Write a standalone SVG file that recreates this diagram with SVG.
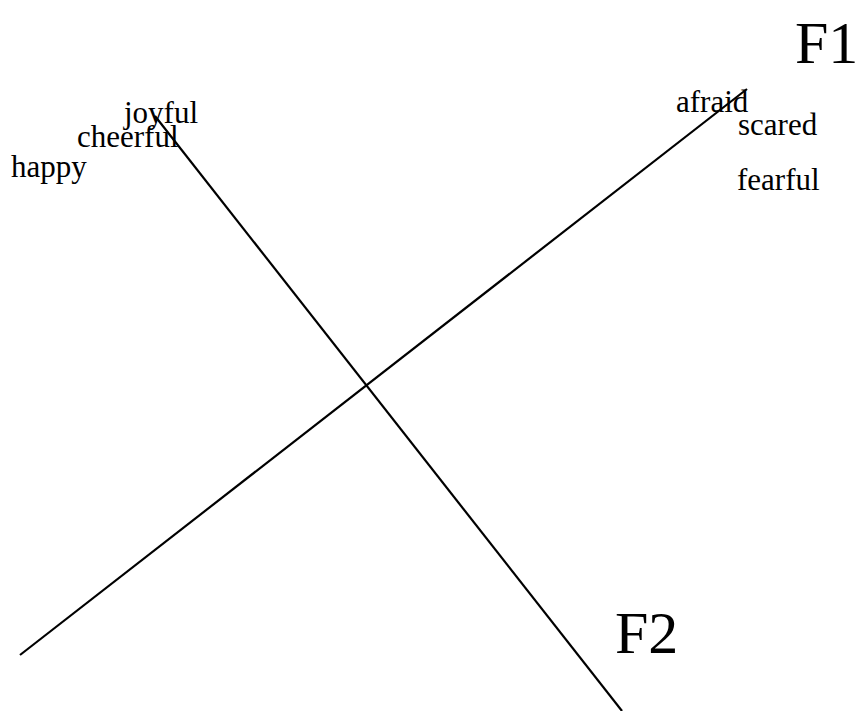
<svg xmlns="http://www.w3.org/2000/svg" width="857" height="711" viewBox="0 0 857 711">
<style>
.w{font-family:"Liberation Serif","Times New Roman",serif;font-size:31px;fill:#000}
.f{font-family:"Liberation Serif","Times New Roman",serif;font-size:60px;fill:#000}
.ax{stroke:#000;stroke-width:2.2;fill:none}
</style>
<rect width="857" height="711" fill="#fff"/>
<g id="connectors">
<line class="ax" x1="20" y1="655" x2="747" y2="89"/>
<line class="ax" x1="155" y1="116" x2="622" y2="711"/>
</g>
<g id="F1"><text class="f" x="795" y="63">F1</text></g>
<g id="F2"><text class="f" x="615" y="653">F2</text></g>
<g id="joyful"><text class="w" x="124" y="123">joyful</text></g>
<g id="cheerful"><text class="w" x="77" y="147">cheerful</text></g>
<g id="happy"><text class="w" x="11" y="177">happy</text></g>
<g id="afraid"><text class="w" x="676" y="112">afraid</text></g>
<g id="scared"><text class="w" x="738" y="135">scared</text></g>
<g id="fearful"><text class="w" x="737" y="190">fearful</text></g>
</svg>
